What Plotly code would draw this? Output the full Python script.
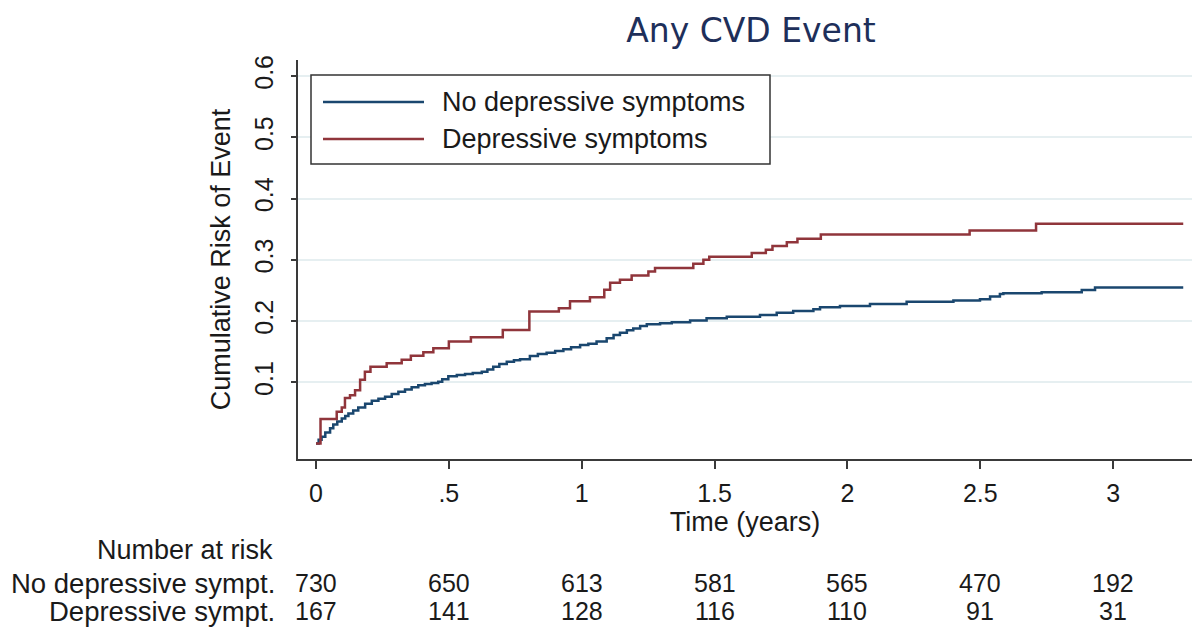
import plotly.graph_objects as go

# Kaplan-Meier style cumulative risk (step vertices: time in years, cumulative risk)
no_dep_time = [0, 0.010, 0.021, 0.035, 0.053, 0.065, 0.080, 0.097, 0.110, 0.122, 0.140, 0.159,
               0.185, 0.21, 0.235, 0.26, 0.285, 0.31, 0.335, 0.36, 0.385, 0.41, 0.435, 0.46,
               0.475, 0.498, 0.53, 0.561, 0.59, 0.624, 0.645, 0.667, 0.69, 0.718, 0.745, 0.768,
               0.805, 0.835, 0.868, 0.90, 0.931, 0.96, 0.994, 1.025, 1.056, 1.094, 1.12, 1.144,
               1.17, 1.194, 1.22, 1.245, 1.295, 1.339, 1.408, 1.47, 1.546, 1.671, 1.734, 1.796,
               1.872, 1.897, 1.972, 2.085, 2.223, 2.399, 2.499, 2.537, 2.574, 2.587, 2.731,
               2.882, 2.932, 3.264]
no_dep_risk = [0.0, 0.006, 0.011, 0.018, 0.025, 0.031, 0.036, 0.041, 0.045, 0.049, 0.054, 0.059,
               0.065, 0.070, 0.073, 0.0765, 0.081, 0.0847, 0.088, 0.092, 0.095, 0.0972, 0.099, 0.101,
               0.105, 0.110, 0.112, 0.1136, 0.115, 0.117, 0.121, 0.1255, 0.130, 0.1337, 0.136, 0.1376,
               0.143, 0.146, 0.1484, 0.151, 0.154, 0.157, 0.161, 0.163, 0.1664, 0.1719, 0.177, 0.181,
               0.185, 0.188, 0.192, 0.1948, 0.1964, 0.198, 0.2007, 0.2046, 0.207, 0.210, 0.2137, 0.2165,
               0.2193, 0.2225, 0.2247, 0.228, 0.2317, 0.2334, 0.2356, 0.240, 0.2443, 0.2454, 0.247,
               0.2508, 0.2546, 0.2546]

dep_time = [0, 0.017, 0.078, 0.097, 0.109, 0.128, 0.147, 0.166, 0.184, 0.205, 0.266, 0.3225,
            0.357, 0.404, 0.4416, 0.50, 0.583, 0.703, 0.803, 0.914, 0.956, 1.031, 1.085, 1.107,
            1.144, 1.188, 1.251, 1.276, 1.42, 1.458, 1.48, 1.64, 1.693, 1.718, 1.772, 1.812,
            1.90, 2.46, 2.71, 3.264]
dep_risk = [0.0, 0.040, 0.052, 0.059, 0.0745, 0.079, 0.087, 0.104, 0.117, 0.1255, 0.131, 0.1368,
            0.1435, 0.149, 0.1555, 0.1664, 0.1735, 0.1855, 0.2154, 0.221, 0.2325, 0.239, 0.251, 0.2625,
            0.2675, 0.2745, 0.281, 0.2865, 0.2935, 0.300, 0.305, 0.311, 0.3165, 0.3227, 0.3285, 0.3345,
            0.3412, 0.348, 0.3587, 0.3587]

series_names = ["No depressive symptoms", "Depressive symptoms"]
series_colors = ["#1a476f", "#90353b"]

# Axis ticks
x_ticks = [0, 0.5, 1, 1.5, 2, 2.5, 3]
x_tick_labels = ["0", ".5", "1", "1.5", "2", "2.5", "3"]
y_ticks = [0.1, 0.2, 0.3, 0.4, 0.5, 0.6]
y_tick_labels = ["0.1", "0.2", "0.3", "0.4", "0.5", "0.6"]

# Number-at-risk table
risk_times = [0, 0.5, 1, 1.5, 2, 2.5, 3]
risk_row_labels = ["No depressive sympt.", "Depressive sympt."]
at_risk_no_dep = [730, 650, 613, 581, 565, 470, 192]
at_risk_dep = [167, 141, 128, 116, 110, 91, 31]

FONT = "Liberation Sans, Arial, Helvetica, sans-serif"
TXT = "#1a1a1a"
W, H = 1195, 628
ML, MR, MT, MB = 298, 3, 60, 169
plot_w = W - ML - MR
plot_h = H - MT - MB


def px_x(px):
    """Horizontal page pixel -> paper coordinate."""
    return (px - ML) / plot_w


def px_y(py):
    """Vertical page pixel -> paper coordinate."""
    return (H - MB - py) / plot_h


fig = go.Figure()
for t, r, name, col in [(no_dep_time, no_dep_risk, series_names[0], series_colors[0]),
                        (dep_time, dep_risk, series_names[1], series_colors[1])]:
    fig.add_trace(go.Scatter(x=t, y=r, mode="lines", name=name,
                             line=dict(color=col, width=2.5, shape="hv"),
                             showlegend=False))

shapes = []
annotations = []

# Boxed legend inside the plot region
shapes.append(dict(type="rect", xref="paper", yref="paper",
                   x0=px_x(311), x1=px_x(770), y0=px_y(164), y1=px_y(75),
                   line=dict(color="#333333", width=1.5), fillcolor="white", layer="above"))
for i, (name, col) in enumerate(zip(series_names, series_colors)):
    yy = px_y(102 + 37 * i)
    shapes.append(dict(type="line", xref="paper", yref="paper",
                       x0=px_x(323), x1=px_x(424), y0=yy, y1=yy,
                       line=dict(color=col, width=2.5), layer="above"))
    annotations.append(dict(text=name, xref="paper", yref="paper", x=px_x(440), y=yy,
                            xanchor="left", yanchor="middle", showarrow=False,
                            font=dict(family=FONT, size=27, color=TXT)))

# Number at risk
annotations.append(dict(text="Number at risk", xref="paper", yref="paper",
                        x=px_x(275), y=px_y(550), xanchor="right", yanchor="middle",
                        showarrow=False, font=dict(family=FONT, size=27, color=TXT)))
for i, (lab, counts) in enumerate(zip(risk_row_labels, [at_risk_no_dep, at_risk_dep])):
    yy = px_y(583 + 28 * i)
    annotations.append(dict(text=lab, xref="paper", yref="paper", x=px_x(277), y=yy,
                            xanchor="right", yanchor="middle", showarrow=False,
                            font=dict(family=FONT, size=27.5, color=TXT)))
    for t, n in zip(risk_times, counts):
        annotations.append(dict(text=str(n), xref="x", yref="paper", x=t, y=yy,
                                xanchor="center", yanchor="middle", showarrow=False,
                                font=dict(family=FONT, size=25, color=TXT)))

fig.update_layout(
    width=W, height=H,
    margin=dict(l=ML, r=MR, t=MT, b=MB, autoexpand=False),
    paper_bgcolor="white", plot_bgcolor="white",
    title=dict(text="Any CVD Event", x=751 / W, xref="container", xanchor="center",
               y=1 - 30 / H, yref="container", yanchor="middle",
               font=dict(family="DejaVu Sans, Verdana, sans-serif", size=33, color="#1e2f5a")),
    shapes=shapes,
    annotations=annotations,
    showlegend=False,
)

fig.update_xaxes(
    range=[(ML - 316) / 265.7, (W - MR - 316) / 265.7],
    tickvals=x_ticks, ticktext=x_tick_labels,
    showline=True, linecolor="#3a3a3a", linewidth=2,
    ticks="outside", ticklen=8, tickwidth=1.5, tickcolor="#3a3a3a",
    ticklabelstandoff=3,
    tickfont=dict(family=FONT, size=25, color=TXT),
    showgrid=False, zeroline=False,
    title=dict(text="Time (years)", font=dict(family=FONT, size=27, color=TXT), standoff=0),
)
fig.update_yaxes(
    range=[-0.0253, 0.6263],
    tickvals=y_ticks, ticktext=y_tick_labels, tickangle=-90,
    showline=True, linecolor="#3a3a3a", linewidth=2,
    ticks="outside", ticklen=5, tickwidth=1.5, tickcolor="#3a3a3a",
    ticklabelstandoff=8,
    tickfont=dict(family=FONT, size=25, color=TXT),
    showgrid=True, gridcolor="#e6eff1", gridwidth=1.5, zeroline=False,
    title=dict(text="Cumulative Risk of Event", font=dict(family=FONT, size=27, color=TXT),
               standoff=12),
)

fig.write_html("out.html")
